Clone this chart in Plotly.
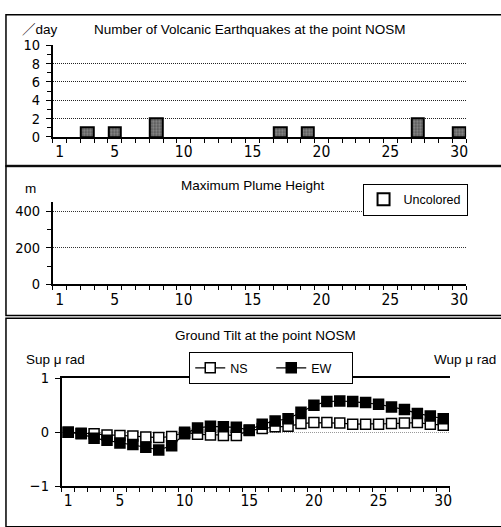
import plotly.graph_objects as go

# ---- data -------------------------------------------------------------
quake_days = [3, 5, 8, 17, 19, 27, 30]
quake_counts = [1, 1, 2, 1, 1, 2, 1]

# no plume observed this month
plume_days = [1]
plume_heights = [None]

tilt_days = list(range(1, 31))
tilt_ns = [0.0, -0.02, -0.03, -0.05, -0.06, -0.07, -0.09, -0.1, -0.08, 0.0,
           -0.04, -0.05, -0.06, -0.06, 0.03, 0.07, 0.1, 0.11, 0.16, 0.18,
           0.18, 0.17, 0.15, 0.15, 0.15, 0.16, 0.17, 0.18, 0.15, 0.13]
tilt_ew = [0.0, -0.03, -0.11, -0.15, -0.2, -0.23, -0.28, -0.33, -0.25, -0.03,
           0.08, 0.11, 0.1, 0.09, 0.04, 0.15, 0.21, 0.25, 0.37, 0.5,
           0.57, 0.58, 0.57, 0.55, 0.52, 0.47, 0.42, 0.35, 0.3, 0.25]

day_ticks = [1, 5, 10, 15, 20, 25, 30]

W, H = 501, 527
FONT = "Liberation Sans, Noto Sans CJK JP, sans-serif"
NARROW = "Liberation Sans Narrow, DejaVu Sans Condensed, Liberation Sans"
XTICKFONT = dict(family=NARROW, size=15.5, color="#000")
YTICKFONT = dict(family=NARROW, size=14.5, color="#000")
GRID_DASH = "1px,1px"


def px(x):
    return x / W


def py(y):
    return 1 - y / H


_XDAY = dict(
    range=[0.5, 30.5], tickmode="array", tickvals=day_ticks, ticks="",
    showline=True, linecolor="#000", linewidth=1.5, showgrid=False, zeroline=False,
    tickfont=XTICKFONT, fixedrange=True,
    minor=dict(tickmode="linear", tick0=0.5, dtick=1, ticks="outside", ticklen=4,
               tickcolor="#000", showgrid=False),
)
_Y = dict(
    showline=True, linecolor="#000", linewidth=1.5, zeroline=False,
    ticks="outside", ticklen=5, tickcolor="#000", tickfont=YTICKFONT,
    griddash=GRID_DASH, gridwidth=1, ticklabelstandoff=3, fixedrange=True,
)

fig = go.Figure()

fig.add_trace(go.Bar(
    x=quake_days, y=quake_counts, width=0.9, xaxis="x", yaxis="y", showlegend=False,
    marker=dict(color="#666", line=dict(color="#000", width=2),
                pattern=dict(shape=".", fgcolor="#c8c8c8", bgcolor="#555", size=3, solidity=0.45)),
))

fig.add_trace(go.Bar(
    x=plume_days, y=plume_heights, xaxis="x2", yaxis="y2", name="Uncolored",
    legend="legend", showlegend=True,
    marker=dict(color="#fff", line=dict(color="#000", width=2)),
))

fig.add_trace(go.Scatter(
    x=tilt_days, y=tilt_ns, xaxis="x3", yaxis="y3", name="NS", legend="legend2",
    mode="lines+markers", line=dict(color="#000", width=1.2),
    marker=dict(symbol="square", size=10, color="#fff", line=dict(color="#000", width=1.5)),
))
fig.add_trace(go.Scatter(
    x=tilt_days, y=tilt_ew, xaxis="x3", yaxis="y3", name="EW", legend="legend2",
    mode="lines+markers", line=dict(color="#000", width=1.2),
    marker=dict(symbol="square", size=10, color="#000", line=dict(color="#000", width=1.5)),
))

fig.update_layout(
    width=W, height=H, margin=dict(l=0, r=0, t=0, b=0),
    paper_bgcolor="#fff", plot_bgcolor="rgba(0,0,0,0)",
    font=dict(family=FONT, size=13, color="#000"),
    bargap=0,
    xaxis=dict(**_XDAY, domain=[px(53), px(468)], anchor="y"),
    yaxis=dict(**_Y, domain=[py(133), py(38.5)], anchor="x", range=[0, 10],
               tickmode="array", tickvals=[0, 2, 4, 6, 8, 10], showgrid=True, gridcolor="#222",
               minor=dict(tickmode="linear", tick0=0, dtick=1, ticks="outside",
                          ticklen=4, tickcolor="#000", showgrid=False)),
    xaxis2=dict(**_XDAY, domain=[px(53), px(468)], anchor="y2"),
    yaxis2=dict(**_Y, domain=[py(285), py(200)], anchor="x2", range=[0, 450],
                tickmode="array", tickvals=[0, 200, 400], showgrid=True, gridcolor="#333",
                minor=dict(tickmode="array", tickvals=[100, 300], ticks="outside",
                           ticklen=4, tickcolor="#000", showgrid=False)),
    xaxis3=dict(**_XDAY, domain=[px(62), px(451.5)], anchor="y3", mirror=True),
    yaxis3=dict(**_Y, domain=[py(493), py(382)], anchor="x3", range=[-1, 1],
                tickmode="array", tickvals=[-1, 0, 1], showgrid=True, gridcolor="#999"),
    yaxis4=dict(**_Y, overlaying="y3", side="right", anchor="x3", range=[-1, 1],
                tickmode="array", tickvals=[-1, 0, 1], showgrid=False),
    legend=dict(x=px(364), y=py(181), xanchor="left", yanchor="top",
                bordercolor="#000", borderwidth=1, bgcolor="#fff",
                font=dict(size=12.5), itemwidth=30, tracegroupgap=0),
    legend2=dict(x=px(190), y=py(355), xanchor="left", yanchor="top", orientation="h",
                 bordercolor="#000", borderwidth=1, bgcolor="#fff",
                 font=dict(size=12.5), itemwidth=30, entrywidth=36),
    shapes=[
        dict(type="rect", xref="paper", yref="paper", x0=px(6), x1=px(510),
             y0=py(163), y1=py(7), line=dict(color="#000", width=1.5)),
        dict(type="line", xref="paper", yref="paper", x0=px(6), x1=px(510),
             y0=py(163), y1=py(163), line=dict(color="#333", width=2.5)),
        dict(type="rect", xref="paper", yref="paper", x0=px(6), x1=px(510),
             y0=py(317), y1=py(163), line=dict(color="#000", width=1.5)),
        dict(type="rect", xref="paper", yref="paper", x0=px(6), x1=px(510),
             y0=py(535), y1=py(320), line=dict(color="#000", width=1.5)),
    ],
    annotations=[
        dict(text="Number of Volcanic Earthquakes at the point NOSM", x=px(251), y=py(22)),
        dict(text="／day", x=px(40), y=py(22)),
        dict(text="Maximum Plume Height", x=px(254), y=py(183)),
        dict(text="m", x=px(31), y=py(186)),
        dict(text="Ground Tilt at the point NOSM", x=px(267), y=py(338)),
        dict(text="Sup μ rad", x=px(56), y=py(362)),
        dict(text="Wup μ rad", x=px(467), y=py(362)),
    ],
)
for a in fig.layout.annotations:
    a.update(xref="paper", yref="paper", xanchor="center", yanchor="middle",
             showarrow=False, font=dict(size=13.5))

# the page's default body margin would push the figure 8px off the window
fig.write_html("out.html", config={"displayModeBar": False},
               post_script="document.body.style.margin='0';")
